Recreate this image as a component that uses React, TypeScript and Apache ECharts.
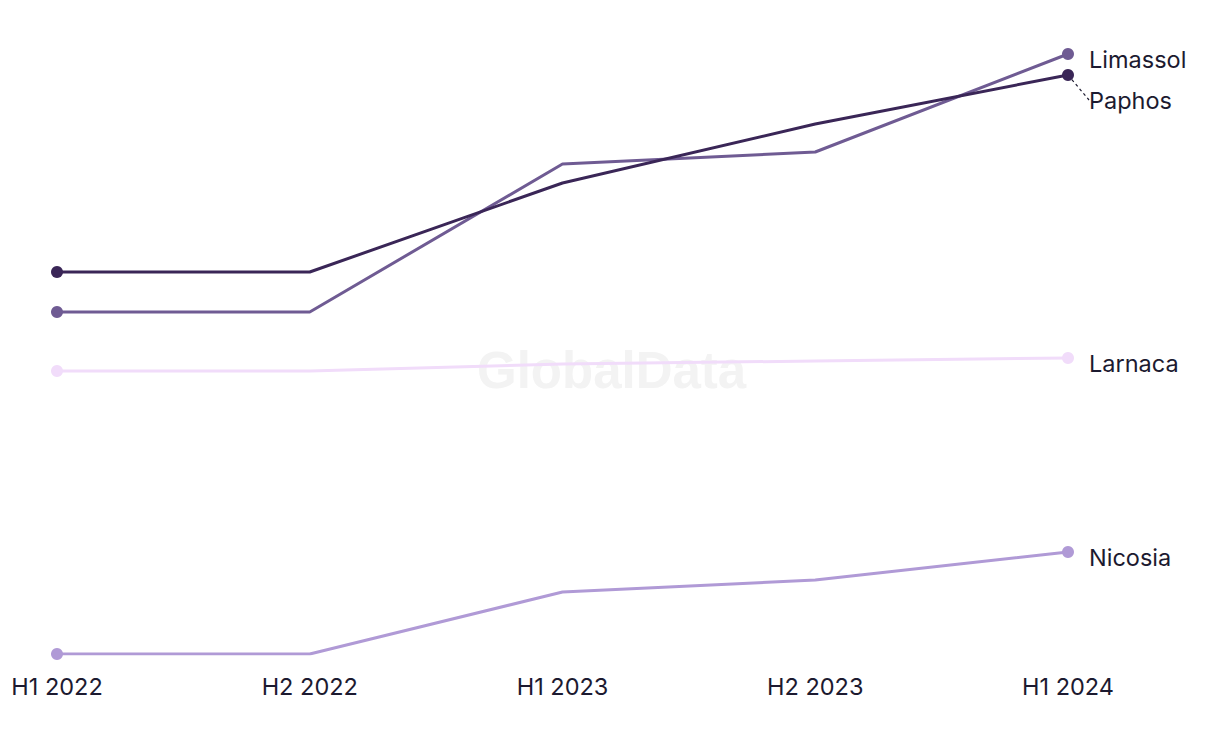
import React, { useEffect, useRef } from "react";
import * as echarts from "echarts";

const categories = ["H1 2022", "H2 2022", "H1 2023", "H2 2023", "H1 2024"];
const paphos = [38.2, 38.2, 47.1, 53.0, 57.9];
const limassol = [34.2, 34.2, 49.0, 50.2, 60.0];
const larnaca = [28.3, 28.3, 29.0, 29.3, 29.6];
const nicosia = [0, 0, 6.2, 7.4, 10.2];

const seriesDefs = [
  { name: "Nicosia", data: nicosia, color: "#b09ad6", dy: 5 },
  { name: "Larnaca", data: larnaca, color: "#f1dcfa", dy: 5 },
  { name: "Limassol", data: limassol, color: "#6f5b93", dy: 5 },
  { name: "Paphos", data: paphos, color: "#3a2657", dy: 25 },
];

const FONT = "Inter, 'Noto Sans', sans-serif";
const TEXT = "#1c1a30";

export default function App() {
  const ref = useRef<HTMLDivElement>(null);
  useEffect(() => {
    if (!ref.current) return;
    const chart = echarts.init(ref.current, null, { renderer: "svg" });
    const last = categories.length - 1;
    chart.setOption({
      animation: false,
      backgroundColor: "#ffffff",
      graphic: [
        {
          type: "text",
          left: 477,
          top: 345,
          z: -10,
          silent: true,
          style: {
            text: "GlobalData",
            fill: "#f3f3f3",
            font: "bold 51px 'Liberation Sans', Arial, sans-serif",
          },
        },
      ],
      grid: { left: 57, right: 152, top: 54, bottom: 90 },
      xAxis: {
        type: "category",
        data: categories,
        boundaryGap: false,
        axisLine: { show: false },
        axisTick: { show: false },
        splitLine: { show: false },
        axisLabel: {
          color: TEXT,
          fontSize: 23.5,
          fontFamily: FONT,
          margin: 20,
        },
      },
      yAxis: {
        type: "value",
        min: 0,
        max: 60,
        show: false,
      },
      series: seriesDefs.map((s) => ({
        name: s.name,
        type: "line",
        z: s.name === "Paphos" ? 4 : 3,
        data: s.data.map((v, i) =>
          i === 0 || i === last
            ? {
                value: v,
                symbol: "circle",
                symbolSize: 12,
                label:
                  i === last
                    ? {
                        show: true,
                        position: "right",
                        distance: 15,
                        formatter: s.name,
                        color: TEXT,
                        fontSize: 23.5,
                        fontFamily: FONT,
                      }
                    : { show: false },
              }
            : { value: v, symbol: "none" }
        ),
        showSymbol: true,
        symbol: "none",
        itemStyle: { color: s.color },
        lineStyle: { color: s.color, width: 3 },
        label: { show: false },
        labelLayout: { dy: s.dy },
        labelLine:
          s.name === "Paphos"
            ? { show: true, lineStyle: { color: TEXT, width: 1.2, type: [3, 3] }, length2: 0 }
            : { show: false },
      })),
    });
    return () => chart.dispose();
  }, []);
  return <div ref={ref} style={{ width: 1220, height: 744, marginLeft: -8, marginTop: -8 }} />;
}
